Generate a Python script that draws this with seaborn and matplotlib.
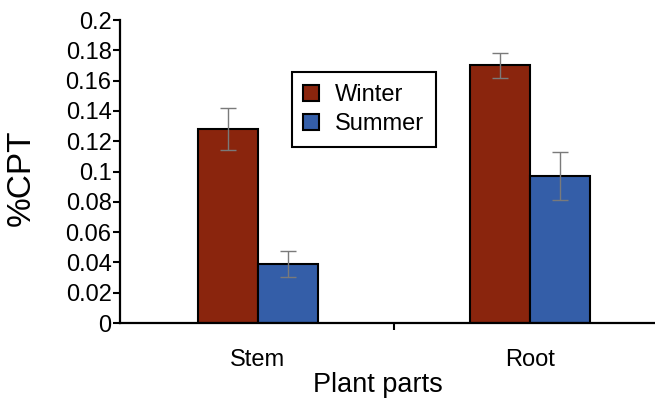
import numpy as np
import pandas as pd
import matplotlib
matplotlib.use("Agg")
import matplotlib.pyplot as plt
import seaborn as sns

# ---- data ----
parts = ["Stem", "Root"]
seasons = ["Winter", "Summer"]
winter = [0.128, 0.170]
summer = [0.039, 0.097]
winter_err = [0.014, 0.0085]
summer_err = [0.0085, 0.016]
ytick_vals = [0, 0.02, 0.04, 0.06, 0.08, 0.1, 0.12, 0.14, 0.16, 0.18, 0.2]
ytick_labels = ["0", "0.02", "0.04", "0.06", "0.08", "0.1", "0.12", "0.14", "0.16", "0.18", "0.2"]
colors = {"Winter": "#8A250D", "Summer": "#345EA8"}

df = pd.DataFrame({
    "part": parts * 2,
    "season": ["Winter"] * 2 + ["Summer"] * 2,
    "cpt": winter + summer,
    "err": winter_err + summer_err,
})

sns.set_style("ticks")
plt.rcParams['font.family'] = ['Liberation Sans', 'DejaVu Sans']
plt.rcParams.update({"text.color": "black", "axes.labelcolor": "black",
                     "xtick.color": "black", "ytick.color": "black"})

fig = plt.figure(figsize=(6.55, 4.01), dpi=100)
ax = fig.add_axes([0.183, 0.1945, 0.817, 0.7555])

sns.barplot(data=df, x="part", y="cpt", hue="season", hue_order=seasons,
            palette=colors, width=0.44, edgecolor="black", linewidth=1.5,
            errorbar=None, ax=ax, saturation=1)

# error bars on top of each bar
for cont, errs in zip(ax.containers, [winter_err, summer_err]):
    for bar, e in zip(cont, errs):
        xc = bar.get_x() + bar.get_width() / 2
        ax.errorbar(xc, bar.get_height(), yerr=e, fmt="none", ecolor="#7a7a7a",
                    elinewidth=1.0, capsize=6, capthick=1.0, zorder=5)

ax.set_xlim(-0.507, 1.46)
ax.set_ylim(0, 0.2)
ax.set_yticks(ytick_vals)
ax.set_yticklabels(ytick_labels)
ax.set_xticks([0.5], minor=True)
ax.tick_params(axis="y", labelsize=17, length=5, width=1.5, pad=1)
ax.tick_params(axis="x", which="major", labelsize=17, length=0, pad=19)
ax.tick_params(axis="x", which="minor", length=5, width=1.5)

for s in ["top", "right"]:
    ax.spines[s].set_visible(False)
for s in ["left", "bottom"]:
    ax.spines[s].set_linewidth(1.6)
    ax.spines[s].set_color("black")

ax.set_ylabel("%CPT", fontsize=24)
ax.set_xlabel("Plant parts", fontsize=19.5)
ax.yaxis.set_label_coords(-0.155, 0.48)
ax.xaxis.set_label_coords(0.482, -0.163)

leg = ax.legend(loc="upper left", bbox_to_anchor=(0.321, 0.828), borderaxespad=0,
                fontsize=17, frameon=True, fancybox=False, edgecolor="black",
                handlelength=0.65, handleheight=0.65, handletextpad=0.7,
                labelspacing=0.3, borderpad=0.5, framealpha=1)
leg.get_frame().set_linewidth(1.5)
for h in leg.legend_handles:
    h.set_edgecolor("black")
    h.set_linewidth(1.5)

fig.savefig("out.png", dpi=100)
